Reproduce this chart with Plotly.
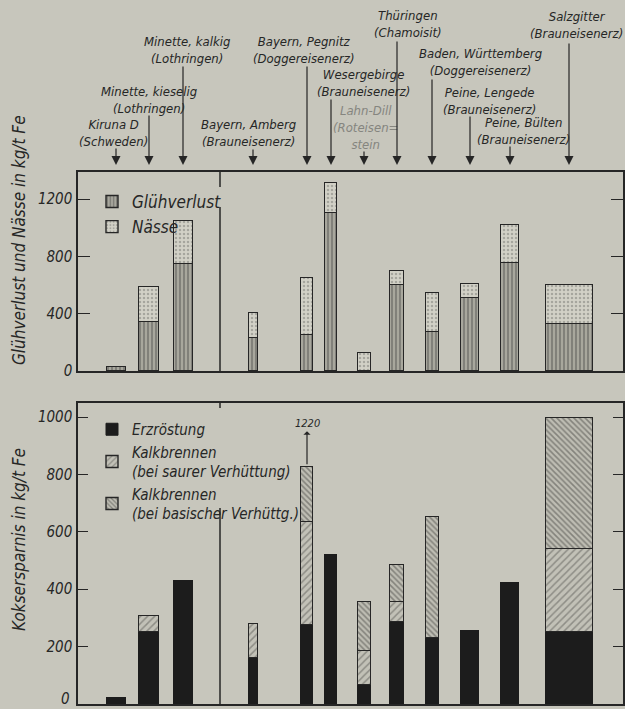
import plotly.graph_objects as go

# ---------------- data ----------------
categories = ["Kiruna D", "Minette, kieselig", "Minette, kalkig", "Bayern, Amberg",
              "Bayern, Pegnitz", "Wesergebirge", "Lahn-Dill", "Thüringen",
              "Baden, Württemberg", "Peine, Lengede", "Peine, Bülten", "Salzgitter"]
label_texts = ["Kiruna D<br>(Schweden)", "Minette, kieselig<br>(Lothringen)",
               "Minette, kalkig<br>(Lothringen)", "Bayern, Amberg<br>(Brauneisenerz)",
               "Bayern, Pegnitz<br>(Doggereisenerz)", "Wesergebirge<br>(Brauneisenerz)",
               "Lahn-Dill<br>(Roteisen=<br>stein", "Thüringen<br>(Chamoisit)",
               "Baden, Württemberg<br>(Doggereisenerz)", "Peine, Lengede<br>(Brauneisenerz)",
               "Peine, Bülten<br>(Brauneisenerz)", "Salzgitter<br>(Brauneisenerz)"]

# kg/t Fe (upper panel)
gluehverlust = [30, 340, 750, 230, 250, 1100, None, 600, 275, 510, 755, 330]
naesse = [None, 245, 295, 175, 400, 215, 125, 95, 270, 95, 265, 270]
# kg/t Fe coke savings (lower panel)
erzroestung = [20, 250, 430, 160, 275, 520, 65, 285, 230, 255, 420, 250]
kalk_sauer = [None, 58, None, 120, 360, None, 120, 70, None, None, None, 290]
kalk_basisch = [None, None, None, None, 190, None, 170, 130, 420, None, None, 455]
pegnitz_note = "1220"
pegnitz_idx = 4

top_ticks = [0, 400, 800, 1200]
bottom_ticks = [200, 400, 600, 800, 1000]
bottom_zero_label = "0"

# ---------------- layout constants ----------------
W, H = 625, 709
slot_x = [38, 71, 105, 175, 229, 253, 286, 319, 354, 392, 432, 491]
bar_w = [19, 20, 19, 9, 12, 12, 13, 14, 13, 18, 18, 47]
divider_x = 142
label_dx = [-3, 0, 4, -5, -4, 32, 1, 11, 48, 19, 13, 7]
label_cy = [133, 100, 50, 133, 50, 83, 128, 24, 62, 101, 131, 25]
arrow_tail = [147, 114, 65, 148, 65, 98, 150, 40, 78, 115, 145, 42]
arrow_tip = 165

BG = "#c7c6bc"
INK = "#262626"
FONT = "DejaVu Sans Condensed, DejaVu Sans, sans-serif"

def py(px):
    return 1 - px / H

fig = go.Figure()

line = dict(color=INK, width=1.4)
fig.add_trace(go.Bar(x=slot_x, y=gluehverlust, width=bar_w, name="Glühverlust",
                     marker=dict(color="#a5a49a", line=line,
                                 pattern=dict(shape="|", fgcolor="#383838", bgcolor="#a8a79d",
                                              size=4, solidity=0.35)),
                     xaxis="x", yaxis="y", legend="legend"))
fig.add_trace(go.Bar(x=slot_x, y=naesse, width=bar_w, name="Nässe",
                     marker=dict(color="#d0cfc5", line=line,
                                 pattern=dict(shape=".", fgcolor="#7a7a74", bgcolor="#d2d1c7",
                                              size=4, solidity=0.3)),
                     xaxis="x", yaxis="y", legend="legend"))

fig.add_trace(go.Bar(x=slot_x, y=erzroestung, width=bar_w, name="Erzröstung",
                     marker=dict(color="#1c1c1c", line=dict(color="#1c1c1c", width=1)),
                     xaxis="x2", yaxis="y2", legend="legend2"))
fig.add_trace(go.Bar(x=slot_x, y=kalk_sauer, width=bar_w,
                     name="Kalkbrennen<br>(bei saurer Verhüttung)",
                     marker=dict(color="#bdbcb2", line=line,
                                 pattern=dict(shape="/", fgcolor="#5a5a55", bgcolor="#c2c1b7",
                                              size=5, solidity=0.3)),
                     xaxis="x2", yaxis="y2", legend="legend2"))
fig.add_trace(go.Bar(x=slot_x, y=kalk_basisch, width=bar_w,
                     name="Kalkbrennen<br>(bei basischer Verhüttg.)",
                     marker=dict(color="#b3b2a8", line=line,
                                 pattern=dict(shape="\\", fgcolor="#4a4a46", bgcolor="#bebdb3",
                                              size=4, solidity=0.4)),
                     xaxis="x2", yaxis="y2", legend="legend2"))

xdom = [78 / W, 623 / W]
ax_common = dict(showline=True, linecolor=INK, linewidth=1.5, mirror=True,
                 showgrid=False, zeroline=False, automargin=False)
xaxis_cfg = dict(ax_common, range=[0, 545], domain=xdom, showticklabels=False, ticks="")
tickfont = dict(family=FONT, size=15, color=INK, style="italic")

fig.update_layout(
    width=W, height=H, autosize=False,
    margin=dict(l=0, r=0, t=0, b=0, pad=0, autoexpand=False),
    paper_bgcolor=BG, plot_bgcolor=BG,
    barmode="stack", bargap=0,
    font=dict(family=FONT, color=INK, style="italic"),
    xaxis=dict(xaxis_cfg, anchor="y"),
    xaxis2=dict(xaxis_cfg, anchor="y2"),
    yaxis=dict(ax_common, domain=[py(371), py(172)], range=[0, 1389], anchor="x",
               tickvals=top_ticks, ticks="inside", ticklen=12, tickwidth=1.3,
               tickcolor=INK, tickfont=tickfont, mirror="ticks", ticklabelstandoff=1),
    yaxis2=dict(ax_common, domain=[py(704), py(403)], range=[0, 1049], anchor="x2",
                tickvals=bottom_ticks, ticks="inside", ticklen=10, tickwidth=1.3,
                tickcolor=INK, tickfont=tickfont, mirror="ticks", ticklabelstandoff=1),
    legend=dict(x=92 / W, y=py(184), xanchor="left", yanchor="top",
                bgcolor="rgba(0,0,0,0)",
                font=dict(family=FONT, size=17, color=INK, style="italic"),
                tracegroupgap=6, itemwidth=30, traceorder="normal"),
    legend2=dict(x=92 / W, y=py(413), xanchor="left", yanchor="top",
                 bgcolor="rgba(0,0,0,0)",
                 font=dict(family=FONT, size=15, color=INK, style="italic"),
                 tracegroupgap=0, itemwidth=30, traceorder="normal"),
    showlegend=True,
)

# divider lines between groups (interrupted where the legends sit)
def frac_top(px):
    return (371 - px) / (371 - 172)

def frac_bot(px):
    return (704 - px) / (704 - 403)

for y0, y1 in [(0, frac_top(207)), (frac_top(187), 1)]:
    fig.add_shape(type="line", xref="x", yref="y domain", x0=divider_x, x1=divider_x,
                  y0=y0, y1=y1, line=dict(color=INK, width=1.5), layer="below")
for y0, y1 in [(0, frac_bot(508)), (frac_bot(408), 1)]:
    fig.add_shape(type="line", xref="x2", yref="y2 domain", x0=divider_x, x1=divider_x,
                  y0=y0, y1=y1, line=dict(color=INK, width=1.5), layer="below")

# ore labels with arrows
for i, txt in enumerate(label_texts):
    col = "#85857f" if categories[i] == "Lahn-Dill" else INK
    fig.add_annotation(x=slot_x[i], xref="x", xshift=label_dx[i], y=py(label_cy[i]), yref="paper",
                       yanchor="middle", xanchor="center",
                       text=txt, showarrow=False, align="center",
                       font=dict(family=FONT, size=13, color=col, style="italic"))
    fig.add_annotation(x=slot_x[i], xref="x", y=py(arrow_tip), yref="paper", text="",
                       showarrow=True, ax=0, ay=-(arrow_tip - arrow_tail[i]),
                       arrowhead=2, arrowsize=1.5, arrowwidth=1.2, arrowcolor=INK)

# Pegnitz overflow note
peg_total = sum(v for v in (erzroestung[pegnitz_idx], kalk_sauer[pegnitz_idx],
                            kalk_basisch[pegnitz_idx]) if v)
fig.add_annotation(x=slot_x[pegnitz_idx], xref="x2", y=peg_total, yref="y2",
                   text=pegnitz_note, showarrow=True, ax=0, ay=-44,
                   arrowside="start", arrowhead=2, arrowsize=1.2, arrowwidth=1.2,
                   arrowcolor=INK, standoff=3,
                   font=dict(family=FONT, size=11, color=INK, style="italic"))

# bottom zero label (kept inside the page)
fig.add_annotation(x=72 / W, y=py(699), xref="paper", yref="paper", xanchor="right",
                   yanchor="middle", text=bottom_zero_label, showarrow=False, font=tickfont)

# y-axis titles
fig.add_annotation(x=19 / W, y=py(240), xref="paper", yref="paper", textangle=-90,
                   xanchor="center", yanchor="middle",
                   text="Glühverlust und Nässe in kg/t Fe", showarrow=False,
                   font=dict(family=FONT, size=17, color=INK, style="italic"))
fig.add_annotation(x=19 / W, y=py(540), xref="paper", yref="paper", textangle=-90,
                   xanchor="center", yanchor="middle",
                   text="Koksersparnis in kg/t Fe", showarrow=False,
                   font=dict(family=FONT, size=17, color=INK, style="italic"))

fig.write_html("out.html", config={"displayModeBar": False},
               post_script="document.body.style.margin='0px';"
                           "document.documentElement.style.background='" + BG + "';"
                           "document.body.style.background='" + BG + "';")
